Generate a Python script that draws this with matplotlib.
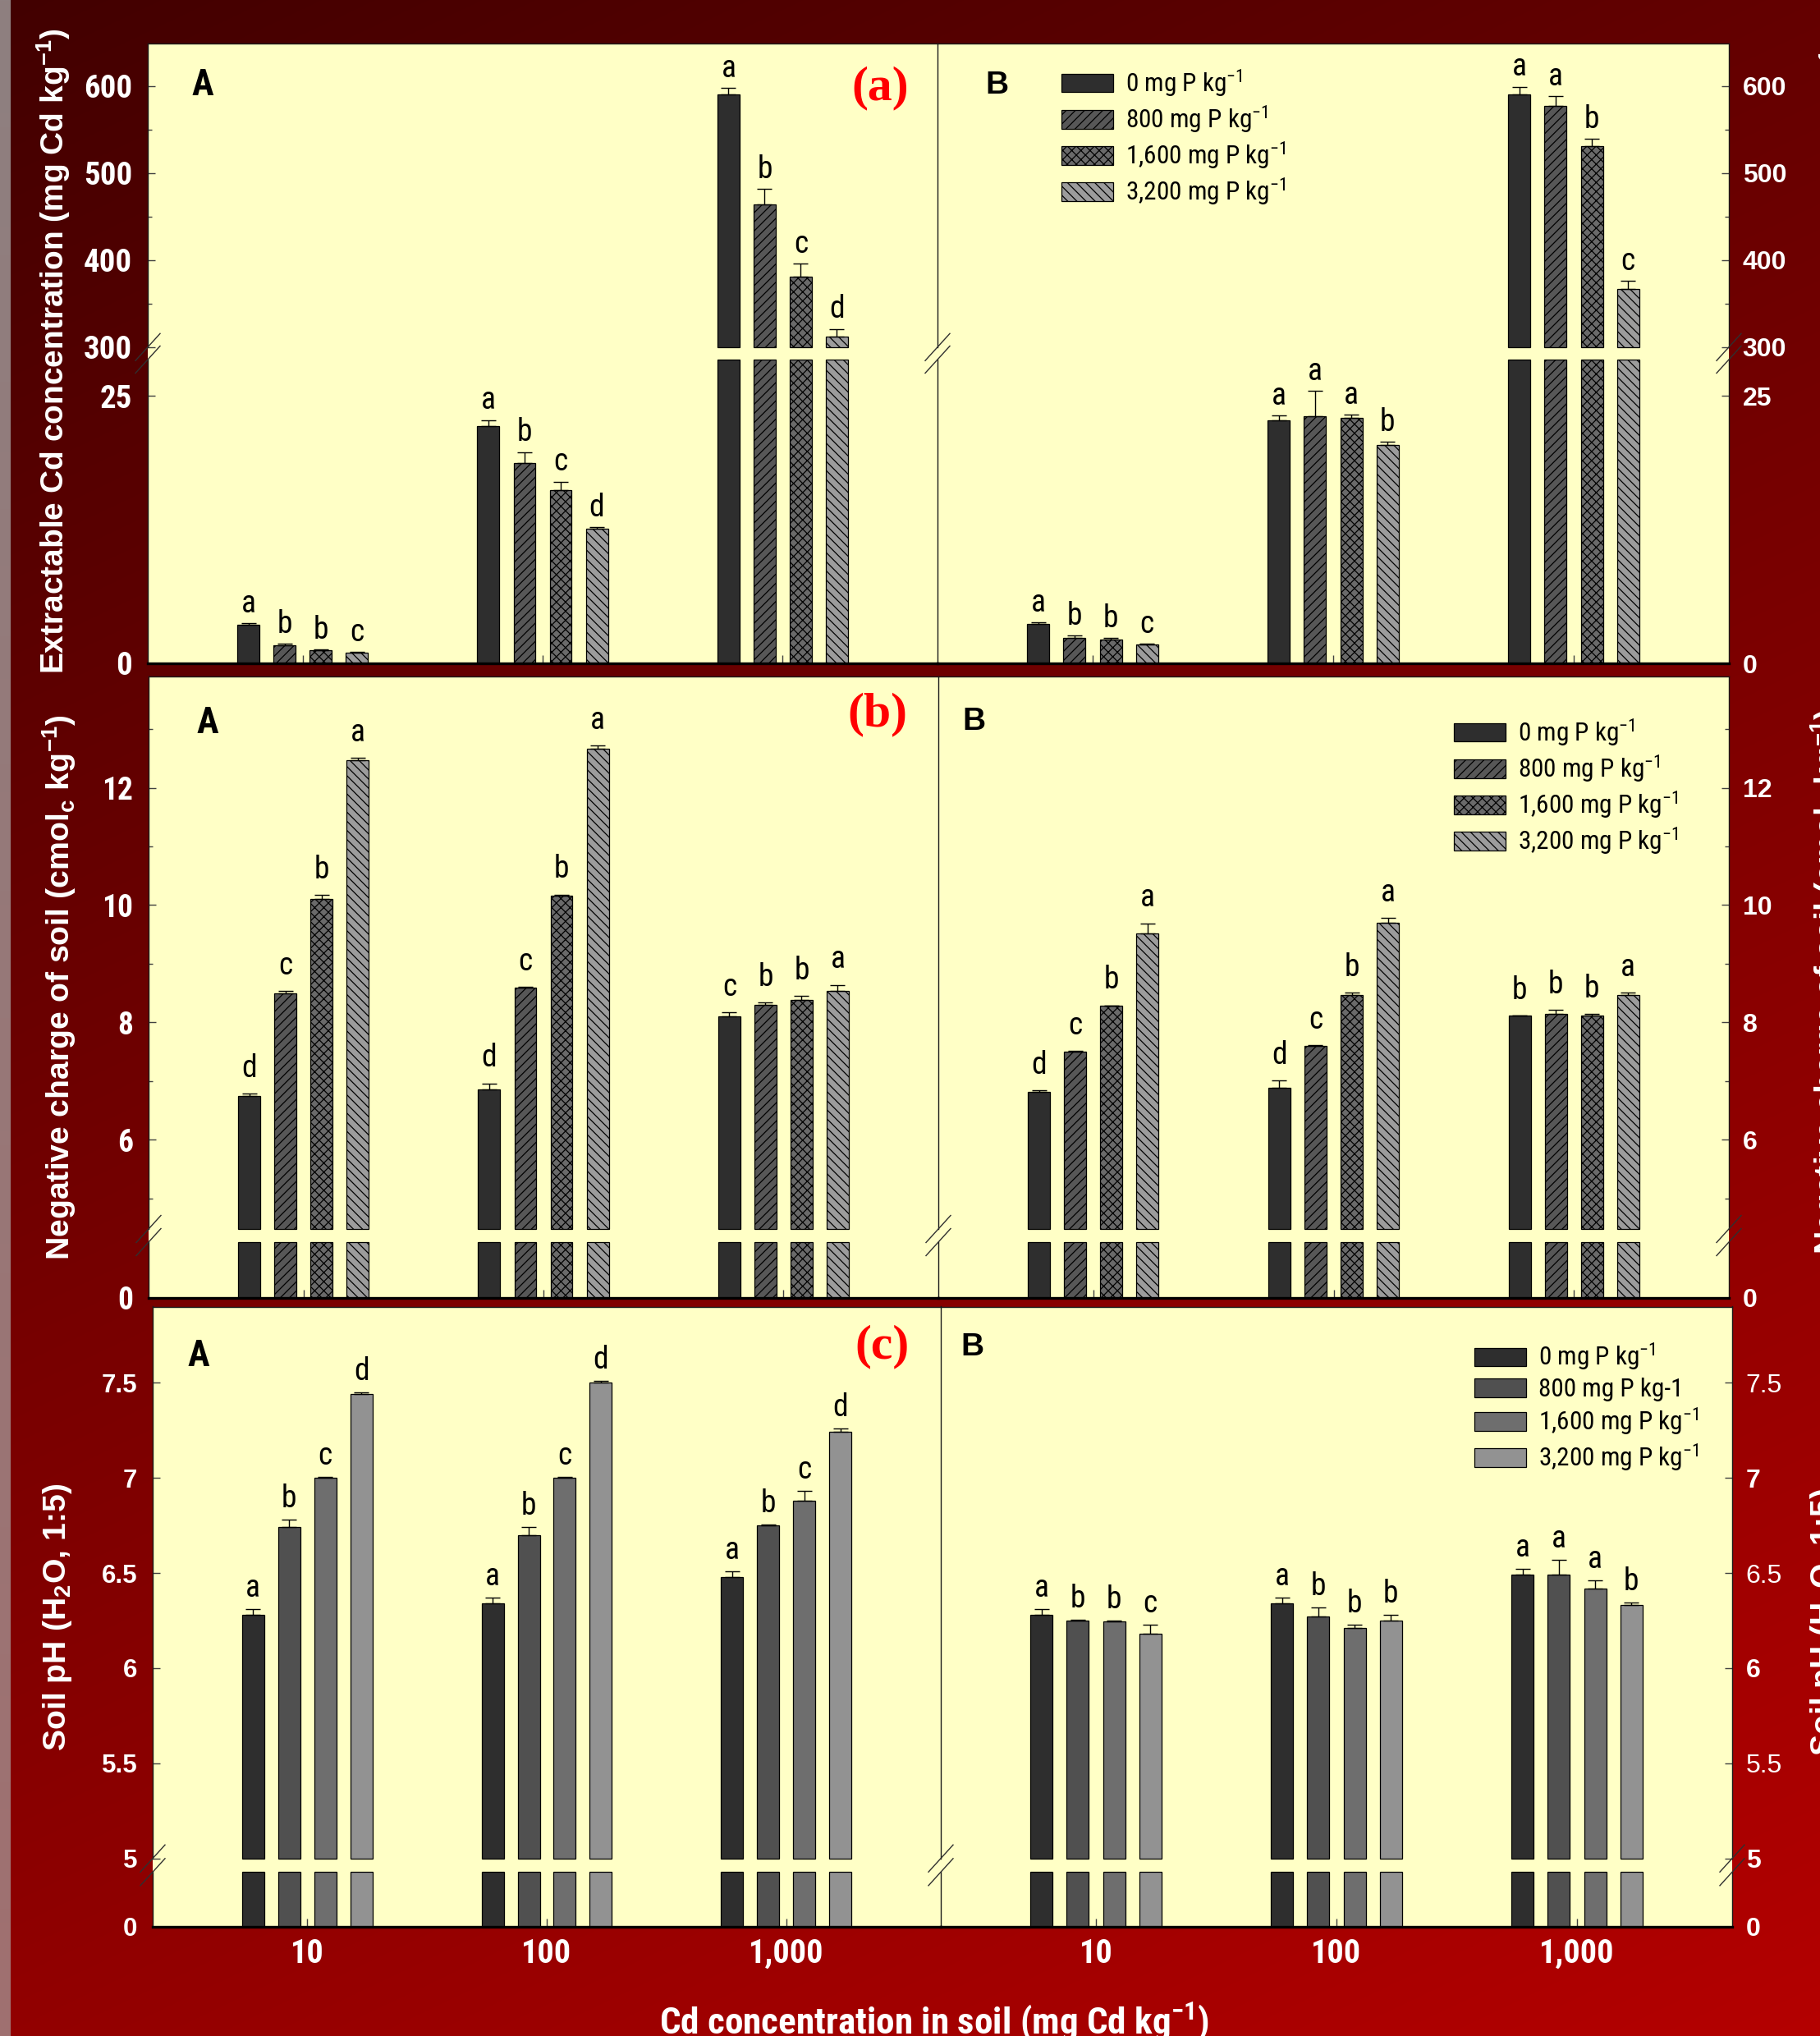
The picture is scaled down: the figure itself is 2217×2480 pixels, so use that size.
import numpy as np
import matplotlib
matplotlib.use("Agg")
import matplotlib.pyplot as plt
from matplotlib import font_manager as fm
from matplotlib.font_manager import FontProperties
from matplotlib.patches import Rectangle
from matplotlib.lines import Line2D

# ---------------------------------------------------------------- data
cd_levels = ["10", "100", "1,000"]
p_labels = ["0 mg P kg$^{-1}$", "800 mg P kg$^{-1}$",
            "1,600 mg P kg$^{-1}$", "3,200 mg P kg$^{-1}$"]
p_labels_ph = ["0 mg P kg$^{-1}$", "800 mg P kg-1",
               "1,600 mg P kg$^{-1}$", "3,200 mg P kg$^{-1}$"]

# (a) extractable Cd, rows = Cd level, columns = P rate
extract_A = [[3.63, 1.67, 1.21, 0.96], [22.2, 18.75, 16.2, 12.6], [590, 464, 381, 312]]
extract_A_err = [[0.1, 0.15, 0.1, 0.1], [0.55, 1.0, 0.8, 0.15], [8, 18, 15, 9]]
extract_A_sig = [["a", "b", "b", "c"], ["a", "b", "c", "d"], ["a", "b", "c", "d"]]
extract_B = [[3.7, 2.37, 2.2, 1.75], [22.7, 23.1, 22.95, 20.4], [590, 577, 531, 367]]
extract_B_err = [[0.1, 0.25, 0.15, 0.1], [0.5, 2.4, 0.3, 0.3], [9, 11, 8, 9]]
extract_B_sig = [["a", "b", "b", "c"], ["a", "a", "a", "b"], ["a", "a", "b", "c"]]

# (b) negative charge
charge_A = [[6.75, 8.49, 10.11, 12.47], [6.86, 8.59, 10.16, 12.67], [8.10, 8.30, 8.38, 8.53]]
charge_A_err = [[0.04, 0.05, 0.06, 0.04], [0.10, 0.02, 0.02, 0.05], [0.07, 0.04, 0.07, 0.11]]
charge_A_sig = [["d", "c", "b", "a"], ["d", "c", "b", "a"], ["c", "b", "b", "a"]]
charge_B = [[6.81, 7.50, 8.28, 9.51], [6.88, 7.60, 8.46, 9.70], [8.11, 8.15, 8.12, 8.46]]
charge_B_err = [[0.03, 0.01, 0.01, 0.18], [0.13, 0.01, 0.05, 0.08], [0.01, 0.06, 0.02, 0.05]]
charge_B_sig = [["d", "c", "b", "a"], ["d", "c", "b", "a"], ["b", "b", "b", "a"]]

# (c) soil pH
ph_A = [[6.28, 6.74, 7.00, 7.44], [6.34, 6.70, 7.00, 7.50], [6.48, 6.75, 6.88, 7.24]]
ph_A_err = [[0.03, 0.04, 0.004, 0.01], [0.03, 0.04, 0.005, 0.01], [0.03, 0.005, 0.05, 0.02]]
ph_A_sig = [["a", "b", "c", "d"], ["a", "b", "c", "d"], ["a", "b", "c", "d"]]
ph_B = [[6.28, 6.25, 6.245, 6.18], [6.34, 6.27, 6.21, 6.25], [6.49, 6.49, 6.42, 6.33]]
ph_B_err = [[0.03, 0.004, 0.004, 0.05], [0.03, 0.05, 0.02, 0.03], [0.03, 0.08, 0.04, 0.015]]
ph_B_sig = [["a", "b", "b", "c"], ["a", "b", "b", "b"], ["a", "a", "a", "b"]]

# ---------------------------------------------------------------- fonts
names = {f.name for f in fm.fontManager.ttflist}


def pick(*cands):
    for c in cands:
        if c in names:
            return c
    return "DejaVu Sans"


NARROW = pick("Liberation Sans Narrow", "Arial Narrow", "Roboto Condensed", "DejaVu Sans")
SANS = pick("Liberation Sans", "Arial", "DejaVu Sans")
SERIF = pick("Liberation Serif", "Times New Roman", "DejaVu Serif")

plt.rcParams["mathtext.default"] = "regular"
plt.rcParams["hatch.linewidth"] = 0.9
plt.rcParams["hatch.color"] = "black"

W, H, DPI = 2217, 2480, 100
fig = plt.figure(figsize=(W / DPI, H / DPI), dpi=DPI)


def fx(px):
    return px / W


def fy(py):
    return 1 - py / H


# ---------------------------------------------------------------- background
bg = fig.add_axes([0, 0, 1, 1], zorder=-10)
yy = np.linspace(0, 1, H)[:, None]
xx = np.linspace(0, 1, W)[None, :]
img = np.zeros((H, W, 3))
img[..., 0] = (66 + 80 * yy + 34 * xx) / 255.0
strip = 13
img[:, :strip, 0] = ((142 + 18 * yy) / 255.0)
img[:, :strip, 1] = ((128 - 16 * yy) / 255.0)
img[:, :strip, 2] = ((128 - 16 * yy) / 255.0)
bg.imshow(img, aspect="auto", extent=(0, W, H, 0), interpolation="bilinear")
bg.set_xlim(0, W)
bg.set_ylim(H, 0)
bg.axis("off")

YELLOW = "#ffffc6"
SPINE = "#1a1a1a"
TICKC = "#404040"

styles_hatched = [dict(color="#2e2e2e", hatch=None),
                  dict(color="#575757", hatch="///"),
                  dict(color="#6a6a6a", hatch="xxx"),
                  dict(color="#9c9c9c", hatch="\\\\\\")]
styles_plain = [dict(color="#2e2e2e", hatch=None),
                dict(color="#505050", hatch=None),
                dict(color="#6e6e6e", hatch=None),
                dict(color="#929292", hatch=None)]

offsets = np.array([-1.5, -0.5, 0.5, 1.5]) * 0.1505
bar_w = 0.0923
xpos = np.arange(len(cd_levels))

rows = [
    dict(key="a", top=52.6, bot=808.0, ubot=422.8, ltop=438.0, left=180, mid=1142, right=2106,
         ulim=(300, 649), llim=(0, 28.4),
         umaj=[300, 400, 500, 600], umaj_lab=["300", "400", "500", "600"], umin=[350, 450, 550],
         lmaj=[0, 25], lmaj_lab=["0", "25"],
         A=(extract_A, extract_A_err, extract_A_sig), B=(extract_B, extract_B_err, extract_B_sig),
         styles=styles_hatched, legend_labels=p_labels, leg_xy=(1293, 82),
         left_font=(NARROW, "bold", 28), right_font=(SANS, "bold", 23),
         sig_off=9.5, A_xy=(247, 104), B_xy=(1214, 104), tag="(a)", tag_xy=(1072, 107),
         ylabel="Extractable Cd concentration (mg Cd kg$^{-1}$)",
         ylab_len=786, ylab_xy=(65, 428), rlab_xy=(2214, 440)),
    dict(key="b", top=824.0, bot=1580.6, ubot=1497.0, ltop=1513.0, left=181, mid=1143, right=2106,
         ulim=(4.475, 13.9), llim=(0, 1),
         umaj=[6, 8, 10, 12], umaj_lab=["6", "8", "10", "12"], umin=[5, 7, 9, 11, 13],
         lmaj=[0], lmaj_lab=["0"],
         A=(charge_A, charge_A_err, charge_A_sig), B=(charge_B, charge_B_err, charge_B_sig),
         styles=styles_hatched, legend_labels=p_labels, leg_xy=(1771, 873),
         left_font=(NARROW, "bold", 27), right_font=(SANS, "bold", 23),
         sig_off=14.5, A_xy=(253, 881), B_xy=(1186, 879), tag="(b)", tag_xy=(1069, 870),
         ylabel="Negative charge of soil (cmol$_{c}$ kg$^{-1}$)",
         ylab_len=664, ylab_xy=(72, 1203), rlab_xy=(2203, 1196)),
    dict(key="c", top=1591.5, bot=2347.0, ubot=2263.7, ltop=2280.3, left=186, mid=1146, right=2110,
         ulim=(5.0, 7.9), llim=(0, 1),
         umaj=[5, 5.5, 6, 6.5, 7, 7.5], umaj_lab=["5", "5.5", "6", "6.5", "7", "7.5"], umin=[],
         lmaj=[0], lmaj_lab=["0"],
         A=(ph_A, ph_A_err, ph_A_sig), B=(ph_B, ph_B_err, ph_B_sig),
         styles=styles_plain, legend_labels=p_labels_ph, leg_xy=(1796, 1634),
         left_font=(SANS, "bold", 22.5), right_font=(SANS, "normal", 23),
         sig_off=10.8, A_xy=(242, 1652), B_xy=(1184, 1641), tag="(c)", tag_xy=(1075, 1640),
         ylabel="Soil pH (H$_{2}$O, 1:5)",
         ylab_len=326, ylab_xy=(70, 1970), rlab_xy=(2203, 1976)),
]

sig_font = FontProperties(family=NARROW, size=27)
legend_font = FontProperties(family=NARROW, size=22.5)
fit_list = []


def add_ax(x0, x1, t, b):
    return fig.add_axes([fx(x0), fy(b), (x1 - x0) / W, (b - t) / H])


for row in rows:
    # panel background spanning both halves
    fig.add_artist(Rectangle((fx(row["left"]), fy(row["bot"])),
                             (row["right"] - row["left"]) / W, (row["bot"] - row["top"]) / H,
                             transform=fig.transFigure, facecolor=YELLOW, edgecolor="none",
                             zorder=-5))
    for half in ("A", "B"):
        x0, x1 = (row["left"], row["mid"]) if half == "A" else (row["mid"], row["right"])
        vals, errs, sigs = row[half]
        vals = np.asarray(vals, float)
        errs = np.asarray(errs, float)
        axu = add_ax(x0, x1, row["top"], row["ubot"])
        axl = add_ax(x0, x1, row["ltop"], row["bot"])
        ulo, uhi = row["ulim"]
        llo, lhi = row["llim"]
        handles = []
        for ax in (axu, axl):
            ax.set_facecolor("none")
            ax.set_xlim(-0.645, 2.645)
            for s in ax.spines.values():
                s.set_color(SPINE)
                s.set_linewidth(1.0)
        axu.set_ylim(ulo, uhi)
        axl.set_ylim(llo, lhi)
        axu.spines["bottom"].set_visible(False)
        axl.spines["top"].set_visible(False)
        axl.spines["bottom"].set_linewidth(2.4)
        axl.spines["bottom"].set_color("black")
        if half == "B":
            axu.spines["left"].set_visible(False)
            axl.spines["left"].set_visible(False)

        for j in range(4):
            st = row["styles"][j]
            v = vals[:, j]
            e = errs[:, j]
            xs = xpos + offsets[j]
            # lower segment of the broken axis
            hb = axl.bar(xs, np.minimum(v, lhi) - llo, bottom=llo, width=bar_w,
                         color=st["color"], hatch=st["hatch"], edgecolor="black",
                         linewidth=0.9, clip_on=False, zorder=2)
            handles.append(hb)
            # upper segment
            m = v > ulo
            if m.any():
                axu.bar(xs[m], v[m] - ulo, bottom=ulo, width=bar_w,
                        color=st["color"], hatch=st["hatch"], edgecolor="black",
                        linewidth=0.9, clip_on=False, zorder=2)
            for k in range(len(v)):
                ax = axu if v[k] > ulo else axl
                ax.errorbar(xs[k], v[k], yerr=[[0], [e[k]]], fmt="none", ecolor="black",
                            elinewidth=1.0, capsize=6.5, capthick=1.0, zorder=3)
                ax.annotate(sigs[k][j], (xs[k], v[k] + e[k]), xytext=(0, row["sig_off"]),
                            textcoords="offset points", ha="center", va="baseline",
                            fontproperties=sig_font, color="black", zorder=4)

        # ticks
        axu.set_xticks([])
        axl.set_xticks(xpos)
        axl.tick_params(axis="x", direction="in", length=7, width=1, color=TICKC, top=False)
        if row["key"] == "c":
            axl.set_xticklabels(cd_levels, fontproperties=FontProperties(family=NARROW, weight="bold", size=29),
                                color="white")
            axl.tick_params(axis="x", pad=10)
        else:
            axl.set_xticklabels([])

        fam, wt, sz = row["left_font"] if half == "A" else row["right_font"]
        axu.set_yticks(row["umaj"])
        axu.set_yticks(row["umin"], minor=True)
        axl.set_yticks(row["lmaj"])
        for ax, labs in ((axu, row["umaj_lab"]), (axl, row["lmaj_lab"])):
            if half == "A":
                ax.tick_params(axis="y", which="both", left=True, right=False, labelleft=True,
                               labelright=False, direction="in", color=TICKC, width=1, pad=13.5)
            else:
                ax.tick_params(axis="y", which="both", left=False, right=True, labelleft=False,
                               labelright=True, direction="in", color=TICKC, width=1, pad=12)
            ax.tick_params(axis="y", which="major", length=6.5)
            ax.tick_params(axis="y", which="minor", length=3.5)
            tl = ax.set_yticklabels(labs, fontproperties=FontProperties(family=fam, weight=wt, size=sz),
                                    color="white")
            if row["key"] == "c" and half == "B":
                for t, s in zip(tl, labs):
                    t.set_fontweight("normal" if "." in s else "bold")

        # broken-axis marks on the vertical edges
        for ex in ((row["left"], row["mid"]) if half == "A" else (row["right"],)):
            for yb in (row["ubot"], row["ltop"]):
                fig.add_artist(Line2D([fx(ex - 15), fx(ex + 15)], [fy(yb + 16.5), fy(yb - 16.5)],
                                      transform=fig.transFigure, color="#303030", lw=1.0, zorder=5))

        if half == "B":
            lx, ly = row["leg_xy"]
            axu.legend(handles, row["legend_labels"], loc="upper left",
                       bbox_to_anchor=(fx(lx), fy(ly)), bbox_transform=fig.transFigure,
                       frameon=False, borderpad=0, borderaxespad=0, prop=legend_font,
                       handlelength=2.0, handleheight=0.75, handletextpad=0.5,
                       labelspacing=0.18)

    # panel letters and tags
    fig.text(fx(row["A_xy"][0]), fy(row["A_xy"][1]), "A", ha="center", va="center",
             fontproperties=FontProperties(family=NARROW, weight="bold", size=32), color="black")
    fig.text(fx(row["B_xy"][0]), fy(row["B_xy"][1]), "B", ha="center", va="center",
             fontproperties=FontProperties(family=SANS, weight="bold", size=28), color="black")
    fig.text(fx(row["tag_xy"][0]), fy(row["tag_xy"][1]), row["tag"], ha="center", va="center",
             fontproperties=FontProperties(family=SERIF, weight="bold", size=43), color="#ff0000")

    # axis titles on both sides
    lab_fp = FontProperties(family=SANS, weight="bold", size=24)
    tl = fig.text(fx(row["ylab_xy"][0]), fy(row["ylab_xy"][1]), row["ylabel"], rotation=90,
                  ha="center", va="center", fontproperties=lab_fp, color="white")
    tr = fig.text(fx(row["rlab_xy"][0]), fy(row["rlab_xy"][1]), row["ylabel"], rotation=90,
                  ha="left", va="center", fontproperties=lab_fp, color="white")
    fit_list.append((tl, tr, row["ylab_len"]))

xl = fig.text(fx(1138), fy(2478), "Cd concentration in soil (mg Cd kg$^{-1}$)", ha="center",
              va="baseline", fontproperties=FontProperties(family=NARROW, weight="bold", size=30),
              color="white")

# scale the axis titles to their intended lengths
renderer = fig.canvas.get_renderer()
for _ in range(2):
    for tl, tr, target in fit_list:
        h = tl.get_window_extent(renderer).height
        s = tl.get_fontsize() * target / h
        tl.set_fontsize(s)
        tr.set_fontsize(s)
    w = xl.get_window_extent(renderer).width
    xl.set_fontsize(xl.get_fontsize() * 670 / w)

fig.savefig("out.png", dpi=DPI)
